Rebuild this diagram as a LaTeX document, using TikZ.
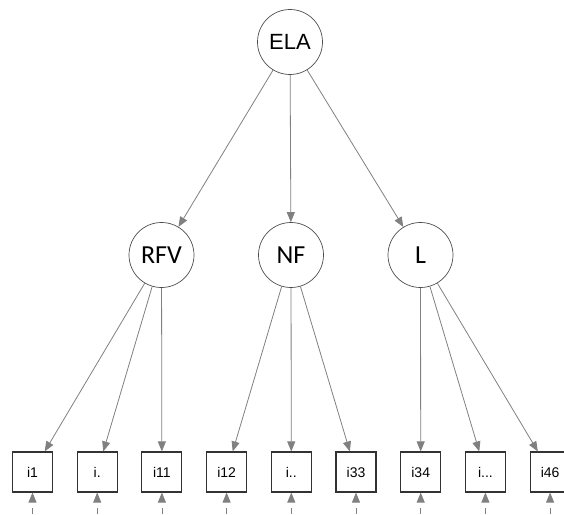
\documentclass[tikz,border=0pt]{standalone}
\usepackage{fontspec}
\setmainfont{Liberation Sans}
\newfontfamily\carl{Carlito}
\usetikzlibrary{arrows.meta}

\begin{document}
\begin{tikzpicture}[x=1pt,y=-1pt,
   lat/.style={circle,draw=black!70,line width=0.7pt,minimum size=65pt,inner sep=0pt},
   obs/.style={rectangle,draw=black!80,line width=1.1pt,minimum width=40pt,minimum height=40pt,inner sep=0pt,font=\fontsize{14}{14}\selectfont},
   every edge/.style={draw=black!50,line width=0.8pt,-{Triangle[length=10pt,width=8pt]}},
   res/.style={dash pattern=on 6pt off 12pt}]
   \useasboundingbox (0,0) rectangle (564,514);

   \node[lat,font=\fontsize{22}{22}\selectfont] (ELA) at (290,42) {ELA};
   \node[lat,font=\carl\fontsize{26}{26}\selectfont] (RFV) at (161.5,255) {RFV};
   \node[lat,font=\carl\fontsize{26}{26}\selectfont] (NF) at (291,255) {NF};
   \node[lat,font=\carl\fontsize{26}{26}\selectfont] (L) at (420.5,255) {L};

   \node[obs] (i1) at (32.5,472) {i1};
   \node[obs] (ia) at (97.2,472) {i.};
   \node[obs] (i11) at (161.9,472) {i11};
   \node[obs] (i12) at (226.6,472) {i12};
   \node[obs] (ib) at (291.3,472) {i..};
   \node[obs] (i33) at (356,472) {i33};
   \node[obs] (i34) at (420.7,472) {i34};
   \node[obs] (ic) at (485.4,472) {i...};
   \node[obs] (i46) at (550.1,472) {i46};

   % error terms, cut off at the bottom
   \coordinate (e1) at (32.5,514);
   \coordinate (ea) at (97.2,514);
   \coordinate (e11) at (161.9,514);
   \coordinate (e12) at (226.6,514);
   \coordinate (eb) at (291.3,514);
   \coordinate (e33) at (356,514);
   \coordinate (e34) at (420.7,514);
   \coordinate (ec) at (485.4,514);
   \coordinate (e46) at (550.1,514);

   \path (ELA) edge (RFV);
   \path (ELA) edge (NF);
   \path (ELA) edge (L);

   \path (RFV) edge (i1);
   \path (RFV) edge (ia);
   \path (RFV) edge (i11);
   \path (NF) edge (i12);
   \path (NF) edge (ib);
   \path (NF) edge (i33);
   \path (L) edge (i34);
   \path (L) edge (ic);
   \path (L) edge (i46);

   \path (e1) edge[res] (i1);
   \path (ea) edge[res] (ia);
   \path (e11) edge[res] (i11);
   \path (e12) edge[res] (i12);
   \path (eb) edge[res] (ib);
   \path (e33) edge[res] (i33);
   \path (e34) edge[res] (i34);
   \path (ec) edge[res] (ic);
   \path (e46) edge[res] (i46);
\end{tikzpicture}
\end{document}
